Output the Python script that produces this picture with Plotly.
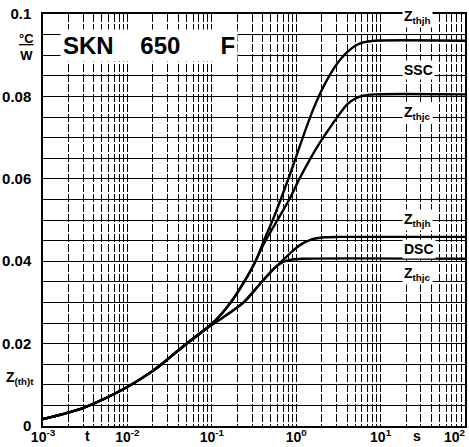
import plotly.graph_objects as go

# ---- data (time t in s, Z in °C/W) ----
t_common = [0.001, 0.0029, 0.0087, 0.0194, 0.0254, 0.0476, 0.0855]
z_common = [0.0017, 0.0043, 0.0088, 0.0132, 0.0150, 0.0196, 0.0236]

t_ssc = [0.1213, 0.1758, 0.2404, 0.3298]
z_ssc = [0.0265, 0.0306, 0.0349, 0.0400]

t_ssc_jh = [0.4083, 0.5346, 0.6637, 0.8241, 0.9683, 1.233, 1.585, 1.951, 2.488, 3.258, 4.043, 5.012, 6.223, 8.37, 100]
z_ssc_jh = [0.0447, 0.0503, 0.0553, 0.0605, 0.0646, 0.0708, 0.0768, 0.0810, 0.0851, 0.0887, 0.0908, 0.0923, 0.0931, 0.0935, 0.0935]

t_ssc_jc = [0.4083, 0.6209, 0.8241, 1.079, 1.490, 1.900, 2.488, 3.258, 4.043, 5.012, 6.223, 8.37, 100]
z_ssc_jc = [0.0440, 0.0505, 0.0549, 0.0598, 0.0651, 0.0687, 0.0723, 0.0757, 0.0781, 0.0795, 0.0802, 0.0805, 0.0805]

t_dsc = [0.1352, 0.2382, 0.3873, 0.5649]
z_dsc = [0.0263, 0.0300, 0.0349, 0.0385]

t_dsc_jh = [0.6998, 0.8453, 1.107, 1.531, 2.174, 3.258, 100]
z_dsc_jh = [0.0403, 0.0419, 0.0439, 0.0453, 0.0458, 0.0459, 0.0459]

t_dsc_jc = [0.6998, 0.8934, 1.17, 100]
z_dsc_jc = [0.0398, 0.0404, 0.0406, 0.0406]

y_major_vals = [0, 0.02, 0.04, 0.06, 0.08, 0.1]
y_major_text = ["0", "0.02", "0.04", "0.06", "0.08", "0.1"]
y_minor_step = 0.005
x_major_vals = [0.001, 0.01, 0.1, 1, 10]
x_major_text = ["10<sup>-3</sup>", "10<sup>-2</sup>", "10<sup>-1</sup>", "10<sup>0</sup>", "10<sup>1</sup>"]
x_minor_vals = [k * v for v in [0.001, 0.01, 0.1, 1, 10] for k in range(2, 10)]

curve_labels = [
    ("Z<sub>thjh</sub>", 0.0993),
    ("SSC", 0.0863),
    ("Z<sub>thjc</sub>", 0.0759),
    ("Z<sub>thjh</sub>", 0.0501),
    ("DSC", 0.0429),
    ("Z<sub>thjc</sub>", 0.0369),
]

FONT = "Liberation Sans, Arial, sans-serif"

curves = [
    (t_common + t_ssc + t_ssc_jh, z_common + z_ssc + z_ssc_jh),
    (t_common + t_ssc + t_ssc_jc, z_common + z_ssc + z_ssc_jc),
    (t_common + t_dsc + t_dsc_jh, z_common + z_dsc + z_dsc_jh),
    (t_common + t_dsc + t_dsc_jc, z_common + z_dsc + z_dsc_jc),
]

fig = go.Figure()
for tx, zy in curves:
    fig.add_trace(go.Scatter(x=tx, y=zy, mode="lines",
                             line=dict(color="black", width=2.4, shape="spline", smoothing=0.8),
                             showlegend=False, hoverinfo="skip"))

fig.update_xaxes(type="log", range=[-3, 2], tickmode="array", tickvals=x_major_vals,
                 ticktext=[f"<b>{s}</b>" for s in x_major_text],
                 showgrid=True, gridcolor="black", gridwidth=1.2, griddash="8px,2px",
                 minor=dict(tickmode="array", tickvals=x_minor_vals, showgrid=True,
                            gridcolor="black", gridwidth=1, griddash="8px,2px", ticks=""),
                 showline=True, linecolor="black", linewidth=1.5, mirror=True,
                 ticks="", zeroline=False, ticklabelstandoff=-3,
                 tickfont=dict(family=FONT, size=14, color="black"))
fig.update_yaxes(range=[0, 0.1], tickmode="array", tickvals=y_major_vals,
                 ticktext=[f"<b>{s}</b>" for s in y_major_text],
                 showgrid=True, gridcolor="black", gridwidth=1,
                 minor=dict(tickmode="linear", tick0=0, dtick=y_minor_step, showgrid=True,
                            gridcolor="black", gridwidth=1, ticks=""),
                 showline=True, linecolor="black", linewidth=1.5, mirror=True,
                 ticks="", zeroline=False, ticklabelstandoff=7,
                 tickfont=dict(family=FONT, size=15, color="black"))

ann = []
ann.append(dict(x=-2.80, y=0.0923, xref="x", yref="y", xanchor="left", yanchor="middle",
                text="<b>SKN\u00a0\u00a0\u00a0\u00a0650\u00a0\u00a0\u00a0\u00a0\u00a0\u00a0F</b>", showarrow=False,
                font=dict(family=FONT, size=24, color="black"), bgcolor="white", borderpad=2))
for txt, yv in curve_labels:
    ann.append(dict(x=1.25, y=yv, xref="x", yref="y", xanchor="left", yanchor="middle",
                    text=f"<b>{txt}</b>", showarrow=False,
                    font=dict(family=FONT, size=14, color="black"), bgcolor="white", borderpad=1))
ann.append(dict(x=-0.040, y=0.0921, xref="paper", yref="y", xanchor="center", yanchor="middle",
                text="<b><u>°C</u><br>W</b>", showarrow=False,
                font=dict(family=FONT, size=13, color="black")))
ann.append(dict(x=-0.092, y=0.0116, xref="paper", yref="y", xanchor="left", yanchor="middle",
                text="<b>Z<sub>(th)t</sub></b>", showarrow=False,
                font=dict(family=FONT, size=14, color="black")))
ann.append(dict(x=-2.47, y=0, xref="x", yref="paper", xanchor="center", yanchor="top", yshift=0,
                text="<b>t</b>", showarrow=False, font=dict(family=FONT, size=14, color="black")))
ann.append(dict(x=1.426, y=0, xref="x", yref="paper", xanchor="center", yanchor="top", yshift=0,
                text="<b>s</b>", showarrow=False, font=dict(family=FONT, size=14, color="black")))
ann.append(dict(x=1.006, y=0, xref="paper", yref="paper", xanchor="right", yanchor="top", yshift=1,
                text="<b>10<sup>2</sup></b>", showarrow=False, font=dict(family=FONT, size=14, color="black")))

fig.update_layout(width=469, height=447, margin=dict(l=40, r=2, t=14, b=19),
                  plot_bgcolor="white", paper_bgcolor="white", annotations=ann,
                  showlegend=False)

fig.write_html("out.html", config={"displayModeBar": False},
               post_script="document.body.style.margin='0px';document.body.style.overflow='hidden';")
